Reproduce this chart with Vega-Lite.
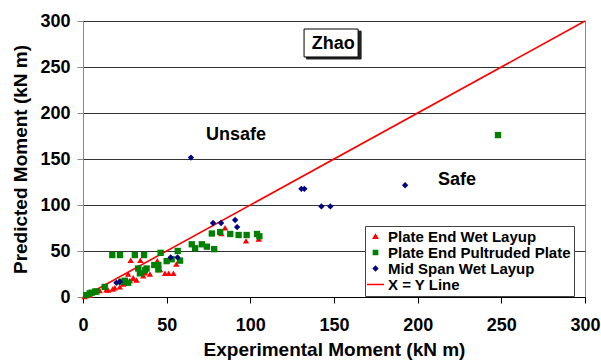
{
  "$schema": "https://vega.github.io/schema/vega-lite/v6.json",
  "width": 502,
  "height": 276,
  "autosize": "none",
  "padding": {"left": 83, "top": 21, "right": 16, "bottom": 64},
  "background": "white",
  "config": {
    "font": "Liberation Sans",
    "view": {"stroke": "#888888", "strokeWidth": 1}
  },
  "datasets": {
    "pts": [
      {"series": "Plate End Wet Layup", "x": 1, "y": 0.5},
      {"series": "Plate End Wet Layup", "x": 4, "y": 2},
      {"series": "Plate End Wet Layup", "x": 10, "y": 7},
      {"series": "Plate End Wet Layup", "x": 14, "y": 8},
      {"series": "Plate End Wet Layup", "x": 15, "y": 7.6},
      {"series": "Plate End Wet Layup", "x": 17.7, "y": 8.7},
      {"series": "Plate End Wet Layup", "x": 19, "y": 10},
      {"series": "Plate End Wet Layup", "x": 22, "y": 11},
      {"series": "Plate End Wet Layup", "x": 24, "y": 14},
      {"series": "Plate End Wet Layup", "x": 26, "y": 16.6},
      {"series": "Plate End Wet Layup", "x": 28, "y": 18},
      {"series": "Plate End Wet Layup", "x": 30, "y": 20},
      {"series": "Plate End Wet Layup", "x": 32, "y": 18.5},
      {"series": "Plate End Wet Layup", "x": 30, "y": 21},
      {"series": "Plate End Wet Layup", "x": 27, "y": 25},
      {"series": "Plate End Wet Layup", "x": 37, "y": 26.4},
      {"series": "Plate End Wet Layup", "x": 40, "y": 25},
      {"series": "Plate End Wet Layup", "x": 36, "y": 23},
      {"series": "Plate End Wet Layup", "x": 46, "y": 30},
      {"series": "Plate End Wet Layup", "x": 28.5, "y": 40},
      {"series": "Plate End Wet Layup", "x": 34.3, "y": 40},
      {"series": "Plate End Wet Layup", "x": 44.4, "y": 39.5},
      {"series": "Plate End Wet Layup", "x": 49, "y": 25.7},
      {"series": "Plate End Wet Layup", "x": 51.2, "y": 25.7},
      {"series": "Plate End Wet Layup", "x": 54, "y": 25.7},
      {"series": "Plate End Wet Layup", "x": 55.8, "y": 35.9},
      {"series": "Plate End Wet Layup", "x": 82.7, "y": 69},
      {"series": "Plate End Wet Layup", "x": 84.9, "y": 75.3},
      {"series": "Plate End Wet Layup", "x": 97.4, "y": 61},
      {"series": "Plate End Wet Layup", "x": 105, "y": 63},
      {"series": "Plate End Pultruded Plate", "x": 2, "y": 2},
      {"series": "Plate End Pultruded Plate", "x": 4, "y": 4},
      {"series": "Plate End Pultruded Plate", "x": 5.2, "y": 4.7},
      {"series": "Plate End Pultruded Plate", "x": 7.2, "y": 5.8},
      {"series": "Plate End Pultruded Plate", "x": 8, "y": 6},
      {"series": "Plate End Pultruded Plate", "x": 13, "y": 11},
      {"series": "Plate End Pultruded Plate", "x": 17.5, "y": 45.6},
      {"series": "Plate End Pultruded Plate", "x": 22.1, "y": 45.6},
      {"series": "Plate End Pultruded Plate", "x": 31, "y": 45.6},
      {"series": "Plate End Pultruded Plate", "x": 36.5, "y": 45.6},
      {"series": "Plate End Pultruded Plate", "x": 23, "y": 16.6},
      {"series": "Plate End Pultruded Plate", "x": 25, "y": 17.7},
      {"series": "Plate End Pultruded Plate", "x": 27, "y": 15.5},
      {"series": "Plate End Pultruded Plate", "x": 33, "y": 31},
      {"series": "Plate End Pultruded Plate", "x": 38, "y": 31},
      {"series": "Plate End Pultruded Plate", "x": 34, "y": 25.7},
      {"series": "Plate End Pultruded Plate", "x": 37, "y": 29},
      {"series": "Plate End Pultruded Plate", "x": 42.6, "y": 34.8},
      {"series": "Plate End Pultruded Plate", "x": 45, "y": 30},
      {"series": "Plate End Pultruded Plate", "x": 45, "y": 34.8},
      {"series": "Plate End Pultruded Plate", "x": 46.4, "y": 48},
      {"series": "Plate End Pultruded Plate", "x": 50, "y": 39},
      {"series": "Plate End Pultruded Plate", "x": 53, "y": 41},
      {"series": "Plate End Pultruded Plate", "x": 56.6, "y": 50},
      {"series": "Plate End Pultruded Plate", "x": 58, "y": 39.5},
      {"series": "Plate End Pultruded Plate", "x": 65, "y": 57.3},
      {"series": "Plate End Pultruded Plate", "x": 67, "y": 53},
      {"series": "Plate End Pultruded Plate", "x": 71, "y": 57.3},
      {"series": "Plate End Pultruded Plate", "x": 74, "y": 54.7},
      {"series": "Plate End Pultruded Plate", "x": 78.4, "y": 52},
      {"series": "Plate End Pultruded Plate", "x": 77, "y": 69},
      {"series": "Plate End Pultruded Plate", "x": 82, "y": 70.6},
      {"series": "Plate End Pultruded Plate", "x": 88, "y": 68.5},
      {"series": "Plate End Pultruded Plate", "x": 93, "y": 67.4},
      {"series": "Plate End Pultruded Plate", "x": 97.8, "y": 67.4},
      {"series": "Plate End Pultruded Plate", "x": 104, "y": 68.5},
      {"series": "Plate End Pultruded Plate", "x": 105.4, "y": 66},
      {"series": "Plate End Pultruded Plate", "x": 248, "y": 176},
      {"series": "Mid Span Wet Layup", "x": 20, "y": 15.5},
      {"series": "Mid Span Wet Layup", "x": 22, "y": 16.6},
      {"series": "Mid Span Wet Layup", "x": 52.4, "y": 43},
      {"series": "Mid Span Wet Layup", "x": 56.5, "y": 43},
      {"series": "Mid Span Wet Layup", "x": 64.5, "y": 151.5},
      {"series": "Mid Span Wet Layup", "x": 77.7, "y": 80.4},
      {"series": "Mid Span Wet Layup", "x": 82.5, "y": 80.4},
      {"series": "Mid Span Wet Layup", "x": 90.9, "y": 83.7},
      {"series": "Mid Span Wet Layup", "x": 92.1, "y": 76},
      {"series": "Mid Span Wet Layup", "x": 130.5, "y": 117.6},
      {"series": "Mid Span Wet Layup", "x": 132.3, "y": 117.6},
      {"series": "Mid Span Wet Layup", "x": 142.5, "y": 98.5},
      {"series": "Mid Span Wet Layup", "x": 147.8, "y": 98.5},
      {"series": "Mid Span Wet Layup", "x": 192.5, "y": 121.5}
    ],
    "xyline": [
      {"series": "X = Y Line", "x": 0, "y": 0},
      {"series": "X = Y Line", "x": 300, "y": 300}
    ],
    "notes": [
      {"label": "Zhao", "x": 149.5, "y": 275.5},
      {"label": "Unsafe", "x": 91.4, "y": 176},
      {"label": "Safe", "x": 223.5, "y": 127}
    ],
    "boxes": [
      {"kind": "shadow", "x": 133.5, "x2": 166.2, "y": 289, "y2": 258.7},
      {"kind": "box", "x": 132.1, "x2": 164.4, "y": 291.3, "y2": 260.9}
    ]
  },
  "layer": [
    {
      "data": {"name": "boxes"},
      "mark": {"type": "rect", "strokeWidth": 1},
      "encoding": {
        "x": {"field": "x", "type": "quantitative", "scale": {"domain": [0, 300], "nice": false}, "title": "Experimental Moment (kN m)"},
        "x2": {"field": "x2"},
        "y": {"field": "y", "type": "quantitative", "scale": {"domain": [0, 300], "nice": false}, "title": "Predicted Moment (kN m)"},
        "y2": {"field": "y2"},
        "fill": {"field": "kind", "type": "nominal", "scale": {"domain": ["shadow", "box"], "range": ["#222222", "#ffffff"]}, "legend": null},
        "stroke": {"field": "kind", "type": "nominal", "scale": {"domain": ["shadow", "box"], "range": ["#222222", "#000000"]}, "legend": null}
      }
    },
    {
      "data": {"name": "notes"},
      "mark": {"type": "text", "fontSize": 18, "fontWeight": "bold", "color": "#000000", "align": "center", "baseline": "middle"},
      "encoding": {
        "x": {"field": "x", "type": "quantitative", "title": "Experimental Moment (kN m)"},
        "y": {"field": "y", "type": "quantitative", "title": "Predicted Moment (kN m)"},
        "text": {"field": "label"}
      }
    },
    {
      "data": {"name": "xyline"},
      "mark": {"type": "line", "strokeWidth": 1.6},
      "encoding": {
        "x": {"field": "x", "type": "quantitative", "title": "Experimental Moment (kN m)"},
        "y": {"field": "y", "type": "quantitative", "title": "Predicted Moment (kN m)"},
        "color": {"field": "series", "type": "nominal"}
      }
    },
    {
      "data": {"name": "pts"},
      "mark": {"type": "point", "filled": true, "opacity": 1, "size": 40},
      "encoding": {
        "x": {
          "field": "x", "type": "quantitative", "title": "Experimental Moment (kN m)",
          "axis": {
            "values": [0, 50, 100, 150, 200, 250, 300],
            "grid": false,
            "domainColor": "#000000",
            "tickColor": "#000000",
            "tickSize": 6,
            "labelFontSize": 18,
            "labelFontWeight": "bold",
            "labelColor": "#000000",
            "labelPadding": 13,
            "titleFontSize": 19,
            "titleFontWeight": "bold",
            "titleColor": "#000000",
            "titlePadding": 6,
            "labelFlush": false
          }
        },
        "y": {
          "field": "y", "type": "quantitative", "title": "Predicted Moment (kN m)",
          "axis": {
            "values": [0, 50, 100, 150, 200, 250, 300],
            "grid": true,
            "gridColor": "#333333",
            "gridWidth": 1,
            "domainColor": "#888888",
            "tickColor": "#888888",
            "tickSize": 6,
            "labelFontSize": 18,
            "labelFontWeight": "bold",
            "labelColor": "#000000",
            "labelPadding": 7,
            "titleFontSize": 19,
            "titleFontWeight": "bold",
            "titleColor": "#000000",
            "titlePadding": 9,
            "labelFlush": false
          }
        },
        "color": {
          "field": "series", "type": "nominal",
          "scale": {
            "domain": ["Plate End Wet Layup", "Plate End Pultruded Plate", "Mid Span Wet Layup", "X = Y Line"],
            "range": ["#ff0000", "#008000", "#000080", "#ff0000"]
          },
          "legend": {
            "title": null,
            "orient": "none",
            "legendX": 282,
            "legendY": 205,
            "strokeColor": "#444444",
            "fillColor": "#ffffff",
            "padding": 3,
            "labelFontSize": 15,
            "labelFontWeight": "bold",
            "labelColor": "#000000",
            "labelLimit": 0,
            "labelOffset": 5,
            "rowPadding": 0,
            "symbolSize": 18,
            "symbolStrokeWidth": 1.5,
            "encode": {
              "symbols": {
                "update": {
                  "stroke": {"scale": "color", "field": "value"}
                }
              }
            }
          }
        },
        "shape": {
          "field": "series", "type": "nominal",
          "scale": {
            "domain": ["Plate End Wet Layup", "Plate End Pultruded Plate", "Mid Span Wet Layup", "X = Y Line"],
            "range": ["triangle-up", "square", "diamond", "M-4,0L4,0"]
          }
        }
      }
    }
  ]
}
